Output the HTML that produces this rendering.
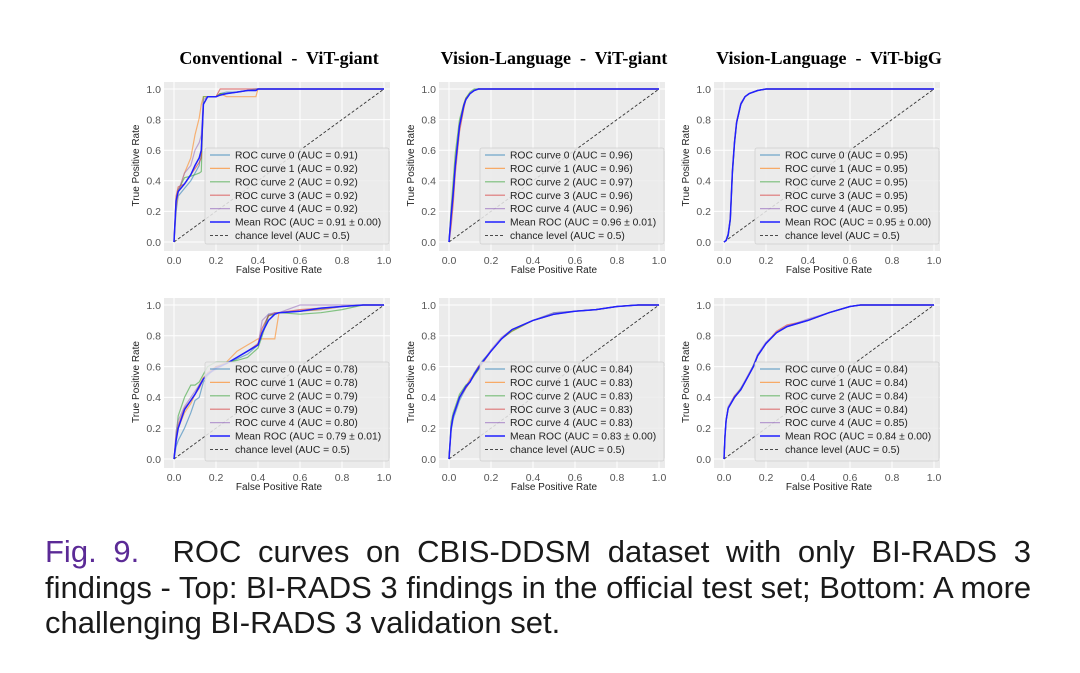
<!DOCTYPE html>
<html><head><meta charset="utf-8"><style>
body{margin:0;background:#fff;width:1080px;height:673px;overflow:hidden;position:relative}
#cap{position:absolute;left:45px;top:534px;width:986px;font-family:"Liberation Sans",sans-serif;font-size:31px;line-height:35.5px;color:#1a1a1a}
#cap .ln{text-align:justify;text-align-last:justify;white-space:nowrap}
#cap .last{text-align:left;white-space:nowrap}
#cap .fig{color:#5b2a96}
</style></head><body>
<svg id="chart" width="1080" height="520" style="position:absolute;left:0;top:0"></svg>
<div id="cap">
<div class="ln"><span class="fig">Fig.&nbsp;9.</span>&nbsp; ROC curves on CBIS-DDSM dataset with only BI-RADS 3</div>
<div class="ln">findings - Top: BI-RADS 3 findings in the official test set; Bottom: A more</div>
<div class="last">challenging BI-RADS 3 validation set.</div>
</div>
<script>
const titles = ["Conventional  -  ViT-giant","Vision-Language  -  ViT-giant","Vision-Language  -  ViT-bigG"];
const ticks = [0,0.2,0.4,0.6,0.8,1.0];
const tickLabels = ["0.0","0.2","0.4","0.6","0.8","1.0"];
const curveNames = ["ROC curve 0","ROC curve 1","ROC curve 2","ROC curve 3","ROC curve 4"];
const aucA = [["0.91","0.92","0.92","0.92","0.92"],["0.96","0.96","0.97","0.96","0.96"],["0.95","0.95","0.95","0.95","0.95"],
 ["0.78","0.78","0.79","0.79","0.80"],["0.84","0.83","0.83","0.83","0.83"],["0.84","0.84","0.84","0.84","0.85"]];
const meanAuc = ["0.91 ± 0.00","0.96 ± 0.01","0.95 ± 0.00","0.79 ± 0.01","0.83 ± 0.00","0.84 ± 0.00"];
const fprA = [0,0.01,0.02,0.05,0.08,0.1,0.12,0.13,0.14,0.16,0.2,0.22,0.25,0.3,0.35,0.39,0.4,0.6,1];
const tprA = [
 [0,0.2,0.3,0.35,0.4,0.45,0.5,0.6,0.9,0.95,0.95,0.97,0.98,0.98,0.99,0.99,1,1,1],
 [0,0.22,0.32,0.45,0.55,0.7,0.81,0.9,0.95,0.95,0.95,0.97,0.95,0.95,0.95,0.95,1,1,1],
 [0,0.28,0.34,0.42,0.43,0.44,0.45,0.46,0.95,0.95,0.95,0.97,0.97,0.98,0.99,1,1,1,1],
 [0,0.3,0.36,0.38,0.44,0.48,0.52,0.55,0.9,0.95,0.95,1,1,1,1,1,1,1,1],
 [0,0.25,0.33,0.45,0.5,0.6,0.65,0.7,0.93,0.95,0.95,0.96,0.97,0.98,0.99,1,1,1,1],
 [0,0.27,0.33,0.38,0.44,0.5,0.55,0.6,0.9,0.95,0.95,0.96,0.97,0.98,0.99,0.99,1,1,1]];
const fprB = [0,0.01,0.02,0.03,0.05,0.07,0.08,0.1,0.12,0.14,0.2,1];
const tprB = [
 [0,0.15,0.3,0.5,0.75,0.88,0.93,0.97,0.99,1,1,1],
 [0,0.2,0.35,0.52,0.77,0.9,0.94,0.97,0.99,1,1,1],
 [0,0.22,0.4,0.58,0.8,0.9,0.94,0.98,1,1,1,1],
 [0,0.1,0.25,0.45,0.72,0.87,0.93,0.97,0.99,1,1,1],
 [0,0.18,0.33,0.5,0.75,0.89,0.93,0.97,0.99,1,1,1],
 [0,0.17,0.32,0.5,0.76,0.89,0.93,0.97,0.99,1,1,1]];
const fprC = [0,0.01,0.02,0.03,0.04,0.05,0.06,0.08,0.1,0.12,0.16,0.2,1];
const tprC = [
 [0,0.01,0.04,0.15,0.45,0.65,0.78,0.9,0.95,0.97,0.99,1,1],
 [0,0.01,0.05,0.16,0.47,0.66,0.79,0.9,0.95,0.97,0.99,1,1],
 [0,0.01,0.04,0.14,0.44,0.64,0.78,0.9,0.95,0.97,0.99,1,1],
 [0,0.01,0.05,0.15,0.46,0.65,0.78,0.9,0.95,0.97,0.99,1,1],
 [0,0.01,0.05,0.16,0.46,0.66,0.79,0.91,0.95,0.97,0.99,1,1],
 [0,0.01,0.05,0.15,0.46,0.65,0.78,0.9,0.95,0.97,0.99,1,1]];
const fprD = [0,0.01,0.02,0.05,0.08,0.1,0.12,0.14,0.16,0.2,0.25,0.3,0.35,0.4,0.42,0.45,0.48,0.5,0.6,0.7,0.8,0.9,1];
const tprD = [
 [0,0.08,0.12,0.2,0.3,0.38,0.4,0.5,0.54,0.6,0.62,0.65,0.68,0.74,0.82,0.94,0.94,0.95,0.96,0.97,0.99,1,1],
 [0,0.12,0.2,0.3,0.36,0.42,0.48,0.53,0.55,0.6,0.63,0.7,0.74,0.78,0.78,0.78,0.78,0.95,0.96,0.97,0.99,1,1],
 [0,0.15,0.28,0.4,0.48,0.48,0.5,0.55,0.6,0.63,0.63,0.64,0.66,0.72,0.8,0.93,0.94,0.95,0.94,0.95,0.97,1,1],
 [0,0.14,0.22,0.33,0.38,0.42,0.46,0.52,0.56,0.6,0.62,0.66,0.7,0.75,0.85,0.93,0.95,0.95,0.97,0.98,0.99,1,1],
 [0,0.18,0.25,0.34,0.4,0.44,0.48,0.52,0.55,0.58,0.62,0.66,0.7,0.74,0.9,0.94,0.95,0.95,1,1,1,1,1],
 [0,0.12,0.2,0.32,0.38,0.42,0.47,0.52,0.55,0.59,0.62,0.66,0.7,0.74,0.82,0.9,0.94,0.95,0.96,0.98,0.99,1,1]];
const fprE = [0,0.01,0.02,0.05,0.08,0.1,0.12,0.14,0.16,0.2,0.25,0.3,0.4,0.5,0.6,0.7,0.8,0.9,1];
const tprE = [
 [0,0.18,0.26,0.38,0.46,0.5,0.56,0.6,0.64,0.7,0.78,0.84,0.9,0.95,0.96,0.97,0.99,1,1],
 [0,0.2,0.28,0.4,0.47,0.52,0.55,0.58,0.62,0.7,0.78,0.83,0.9,0.94,0.96,0.97,0.99,1,1],
 [0,0.24,0.3,0.42,0.48,0.5,0.54,0.58,0.63,0.7,0.78,0.83,0.9,0.94,0.96,0.97,0.99,1,1],
 [0,0.2,0.28,0.4,0.46,0.5,0.55,0.6,0.63,0.7,0.78,0.84,0.9,0.94,0.96,0.97,0.99,1,1],
 [0,0.2,0.28,0.4,0.47,0.51,0.55,0.59,0.63,0.71,0.79,0.84,0.9,0.95,0.96,0.97,0.99,1,1],
 [0,0.2,0.28,0.4,0.47,0.5,0.55,0.59,0.63,0.7,0.78,0.84,0.9,0.94,0.96,0.97,0.99,1,1]];
const fprF = [0,0.005,0.01,0.02,0.05,0.08,0.1,0.12,0.14,0.16,0.2,0.25,0.3,0.4,0.5,0.6,0.65,1];
const tprF = [
 [0,0.15,0.25,0.33,0.4,0.45,0.5,0.55,0.6,0.67,0.75,0.82,0.86,0.9,0.95,0.99,1,1],
 [0,0.15,0.25,0.33,0.4,0.45,0.5,0.55,0.6,0.67,0.75,0.82,0.86,0.9,0.95,0.99,1,1],
 [0,0.15,0.25,0.33,0.4,0.46,0.5,0.55,0.61,0.67,0.75,0.82,0.86,0.9,0.95,0.99,1,1],
 [0,0.15,0.25,0.33,0.41,0.45,0.5,0.55,0.6,0.67,0.75,0.83,0.87,0.9,0.95,0.99,1,1],
 [0,0.15,0.25,0.34,0.41,0.46,0.51,0.56,0.61,0.68,0.76,0.82,0.86,0.91,0.95,0.99,1,1],
 [0,0.15,0.25,0.33,0.4,0.45,0.5,0.55,0.6,0.67,0.75,0.82,0.86,0.9,0.95,0.99,1,1]];
const panelFpr = [fprA,fprB,fprC,fprD,fprE,fprF];
const panelTpr = [tprA,tprB,tprC,tprD,tprE,tprF];

const colors = ["#1f77b4","#ff7f0e","#2ca02c","#d62728","#9467bd"];
const NS = "http://www.w3.org/2000/svg";
const svg = document.getElementById("chart");
function mk(tag, attrs, parent){const e=document.createElementNS(NS,tag);for(const k in attrs)e.setAttribute(k,attrs[k]);(parent||svg).appendChild(e);return e;}
const FONT = "Liberation Sans, sans-serif";
for(let p=0;p<6;p++){
  const c=p%3, r=Math.floor(p/3);
  const x0=174+275*c, W=210;
  const yb = r===0?242:459, H = r===0?153:154, yt=yb-H;
  const sx=v=>x0+v*W, sy=v=>yb-v*H;
  const g=mk("g",{});
  
  
  const bg=mk("rect",{x:x0-10,y:yt-7,width:W+16,height:H+16,fill:"#ebebeb"},g);
  
  
  ticks.forEach((t,i)=>{
    mk("line",{x1:sx(t),x2:sx(t),y1:yt-7,y2:yb+9,stroke:"#fff","stroke-width":1},g);
    mk("line",{x1:x0-10,x2:x0+W+6,y1:sy(t),y2:sy(t),stroke:"#fff","stroke-width":1},g);
    const xl=mk("text",{x:sx(t),y:yb+22,"font-size":10.5,"font-family":FONT,fill:"#555","text-anchor":"middle"},g);
    xl.textContent=tickLabels[i];
    
    
    const yl=mk("text",{x:x0-13,y:sy(t)+3.8,"font-size":10.5,"font-family":FONT,fill:"#555","text-anchor":"end"},g);
    yl.textContent=tickLabels[i];
    
    
  });
  const xt=mk("text",{x:x0+W/2,y:yb+31,"font-size":10,"font-family":FONT,fill:"#222","text-anchor":"middle"},g);
  xt.textContent="False Positive Rate";
  
  
  const yti=mk("text",{x:0,y:0,"font-size":10,"font-family":FONT,fill:"#222","text-anchor":"middle",transform:`translate(${x0-35},${yb-H/2}) rotate(-90)`},g);
  yti.textContent="True Positive Rate";
  
  
  if(r===0){
    const tt=mk("text",{x:x0+W/2,y:64,"font-size":18,"font-weight":"bold","font-family":"Liberation Serif, serif",fill:"#000","text-anchor":"middle",style:"white-space:pre"},g);
    tt.textContent=titles[c];
    
    
  }
  const fpr=panelFpr[p], tprs=panelTpr[p];
  const path=arr=>arr.map((v,i)=>(i?"L":"M")+sx(fpr[i]).toFixed(1)+","+sy(v).toFixed(1)).join("");
  for(let k=0;k<5;k++){
    const l=mk("path",{d:path(tprs[k]),fill:"none",stroke:colors[k],"stroke-width":1.2,opacity:0.55},g);
    
    
  }
  const ch=mk("line",{x1:sx(0),y1:sy(0),x2:sx(1),y2:sy(1),stroke:"#333","stroke-width":0.9,"stroke-dasharray":"3,2"},g);
  
  
  const m=mk("path",{d:path(tprs[5]),fill:"none",stroke:"#2020ff","stroke-width":1.5},g);
  
  
  const ly=yt+(r===0?59:57);
  const lg=mk("g",{},g);
  
  
  mk("rect",{x:x0+31,y:ly,width:184,height:yb+2-ly,rx:2,fill:"#ebebeb","fill-opacity":0.85,stroke:"#d0d0d0","stroke-width":0.8},lg);
  const labels=curveNames.map((n,k)=>`${n} (AUC = ${aucA[p][k]})`).concat([`Mean ROC (AUC = ${meanAuc[p]})`,"chance level (AUC = 0.5)"]);
  labels.forEach((t,k)=>{
    const yy=ly+7+k*13.4;
    const ls = k<5?{stroke:colors[k],opacity:0.6,"stroke-width":1.2}:k===5?{stroke:"#2020ff","stroke-width":1.5}:{stroke:"#333","stroke-dasharray":"3,2","stroke-width":0.9};
    mk("line",Object.assign({x1:x0+36,x2:x0+56,y1:yy,y2:yy},ls),lg);
    const tx=mk("text",{x:x0+61,y:yy+3.6,"font-size":10.3,"font-family":FONT,fill:"#222"},lg);
    tx.textContent=t;
    
    
  });
}
</script>
</body></html>
